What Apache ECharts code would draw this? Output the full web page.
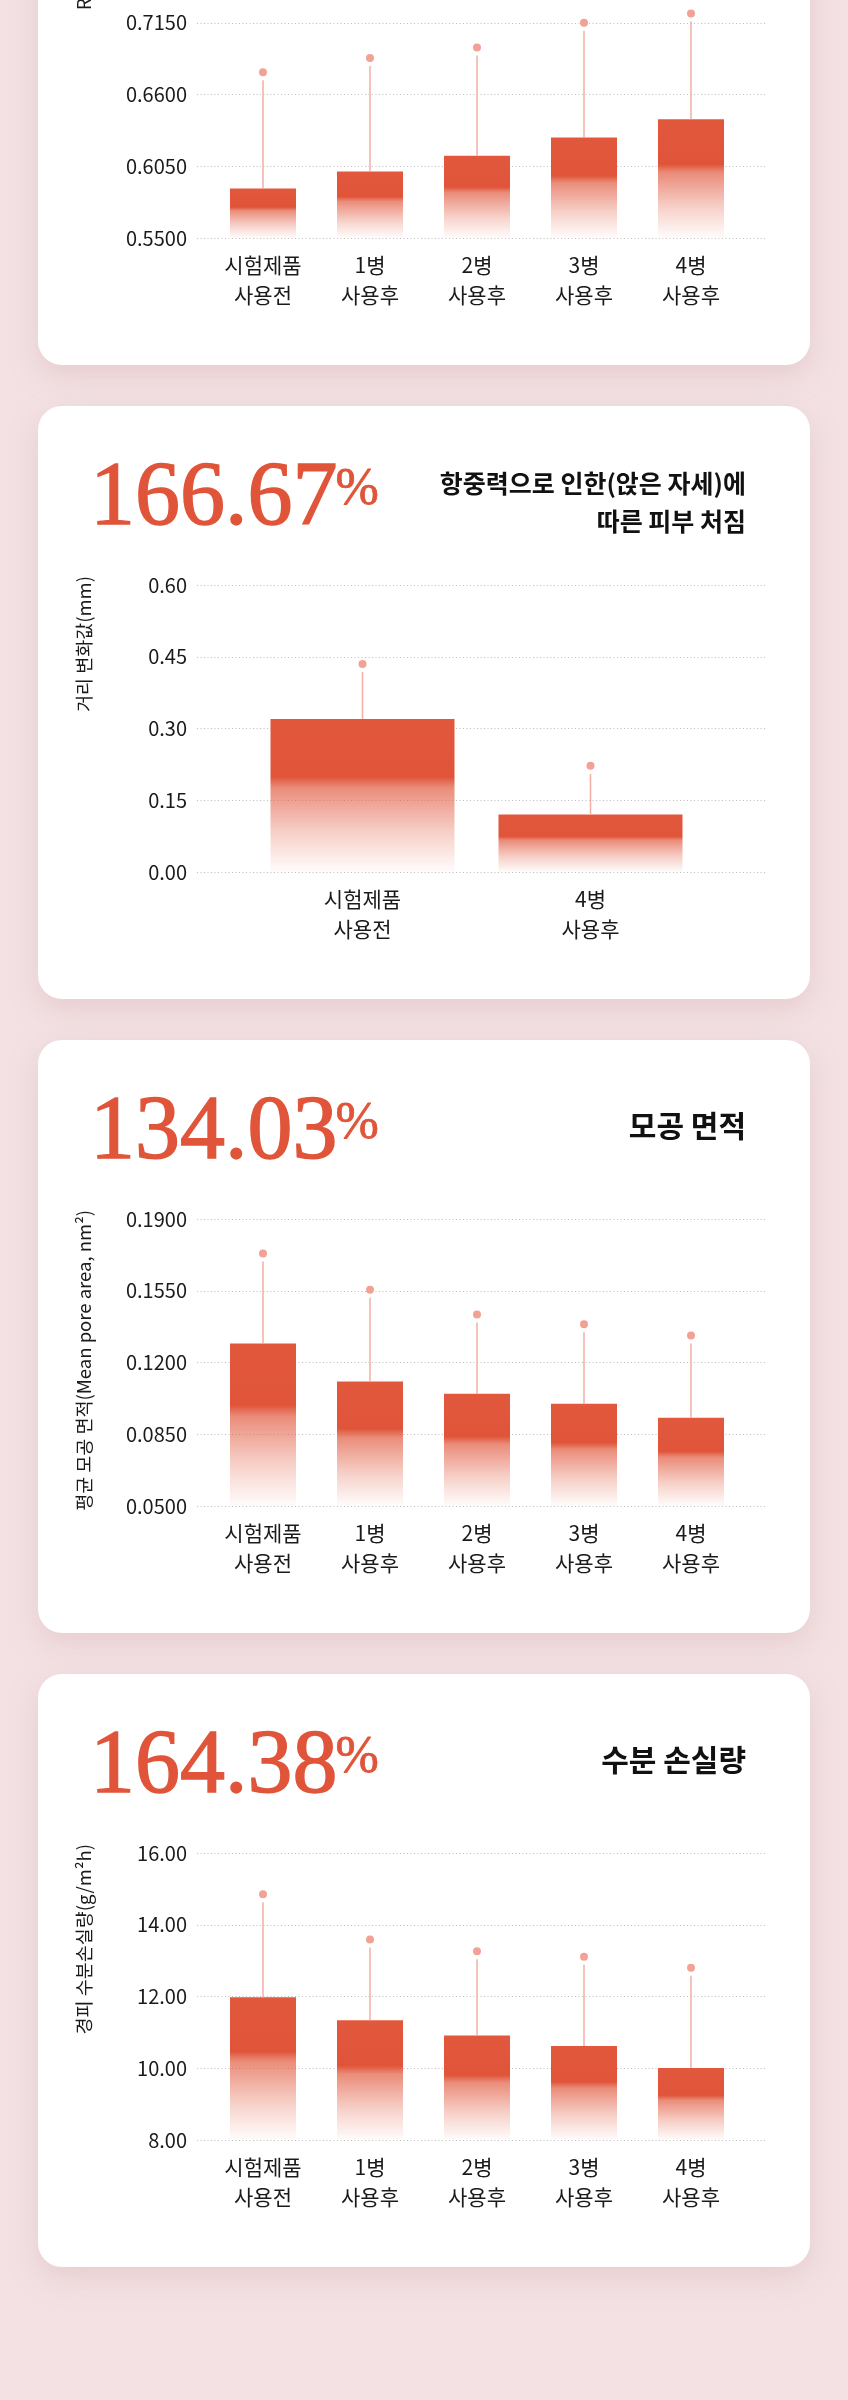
<!DOCTYPE html>
<html>
<head>
<meta charset="utf-8">
<script src="https://cdn.jsdelivr.net/npm/echarts@6/dist/echarts.min.js"></script>
<style>
  body { margin: 0; width: 848px; height: 2400px; background: #f3e1e3; position: relative; overflow: hidden; }
  .card { position: absolute; left: 38px; width: 772px; height: 593px; background: #fff; border-radius: 24px;
          box-shadow: 0 10px 28px rgba(210, 165, 170, 0.35); }
  .chart { width: 772px; height: 593px; }
</style>
</head>
<body>
<div class="card" style="top:-228px"><div class="chart" id="chart1"></div></div>
<div class="card" style="top:406px"><div class="chart" id="chart2"></div></div>
<div class="card" style="top:1040px"><div class="chart" id="chart3"></div></div>
<div class="card" style="top:1674px"><div class="chart" id="chart4"></div></div>

<script>
// categories
const stepLabels = ['시험제품\n사용전', '1병\n사용후', '2병\n사용후', '3병\n사용후', '4병\n사용후'];
const twoLabels = ['시험제품\n사용전', '4병\n사용후'];

// chart 1 - elasticity (card top cut off)
const elasticMean = [0.588, 0.601, 0.613, 0.627, 0.641];
const elasticUpper = [0.677, 0.688, 0.696, 0.715, 0.722];

// chart 2 - sagging
const sagMean = [0.32, 0.12];
const sagUpper = [0.435, 0.222];

// chart 3 - pore area
const poreMean = [0.1293, 0.1107, 0.1047, 0.0999, 0.0930];
const poreUpper = [0.1732, 0.1555, 0.1434, 0.1386, 0.1332];

// chart 4 - TEWL
const tewlMean = [11.98, 11.34, 10.91, 10.62, 10.01];
const tewlUpper = [14.85, 13.59, 13.26, 13.11, 12.80];

const FONT = "'Noto Sans CJK KR', 'Noto Sans', sans-serif";
const SERIF = "'Liberation Serif', serif";
const RED = '#e0553a';

function textWidth(text, font) {
  const ctx = document.createElement('canvas').getContext('2d');
  ctx.font = font;
  return ctx.measureText(text).width;
}

function makeOption(cfg) {
  const elements = [];
  if (cfg.number) {
    const w = textWidth(cfg.number, '90px ' + SERIF);
    elements.push({
      type: 'text', x: 52, y: 94,
      style: { text: cfg.number, fill: RED, stroke: RED, lineWidth: 1.4, fontSize: 90, fontFamily: SERIF,
               align: 'left', verticalAlign: 'middle', textAlign: 'left', textVerticalAlign: 'middle' }
    });
    elements.push({
      type: 'text', x: 52 + w - 2, y: 84,
      style: { text: '%', fill: RED, stroke: RED, lineWidth: 0.8, fontSize: 52, fontFamily: SERIF,
               align: 'left', verticalAlign: 'middle', textAlign: 'left', textVerticalAlign: 'middle' }
    });
  }
  if (cfg.title) {
    const twoLine = cfg.title.indexOf('\n') >= 0;
    elements.push({
      type: 'text', x: 708, y: twoLine ? 96 : 86,
      style: { text: cfg.title, fill: '#111', fontSize: twoLine ? 25 : 30, fontWeight: 'bold', fontFamily: FONT,
               lineHeight: 38, align: 'right', verticalAlign: 'middle', textAlign: 'right', textVerticalAlign: 'middle' }
    });
  }
  // rotated y axis name
  elements.push({
    type: 'text', x: 46, y: cfg.nameFromBottom ? 238 : 170, rotation: Math.PI / 2,
    style: { text: cfg.yName, fill: '#1a1a1a', fontSize: 18.5, fontFamily: FONT,
             align: cfg.nameFromBottom ? 'left' : 'right', verticalAlign: 'middle',
             textAlign: cfg.nameFromBottom ? 'left' : 'right', textVerticalAlign: 'middle' }
  });

  const yRange = { min: cfg.min, max: cfg.max, interval: cfg.interval };

  return {
    animation: false,
    textStyle: { fontFamily: FONT },
    graphic: { elements: elements },
    grid: [
      { left: 159, right: 45, top: 179, bottom: 127 },
      { left: cfg.barLeft, right: cfg.barRight, top: 179, bottom: 127 }
    ],
    xAxis: [
      { gridIndex: 0, type: 'value', min: 0, max: 1, show: false },
      {
        gridIndex: 1, type: 'category', data: cfg.labels,
        axisLine: { show: false }, axisTick: { show: false },
        axisLabel: { color: '#1a1a1a', fontSize: 21, lineHeight: 30, margin: 12, interval: 0 }
      }
    ],
    yAxis: [
      Object.assign({
        gridIndex: 0, type: 'value',
        axisLine: { show: false }, axisTick: { show: false },
        axisLabel: { color: '#1a1a1a', fontSize: 20, margin: 10,
                     formatter: (v) => v.toFixed(cfg.decimals) },
        splitLine: { show: true, lineStyle: { color: '#bcbcbc', width: 1, type: [1, 2.5] } }
      }, yRange),
      Object.assign({ gridIndex: 1, type: 'value', show: false, splitLine: { show: false } }, yRange)
    ],
    series: [
      {
        type: 'bar', xAxisIndex: 1, yAxisIndex: 1, barWidth: cfg.barWidth, clip: true,
        data: cfg.mean,
        itemStyle: {
          color: new echarts.graphic.LinearGradient(0, 0, 0, 1, [
            { offset: 0, color: '#e2583c' },
            { offset: 0.38, color: '#e0553a' },
            { offset: 0.45, color: 'rgba(226, 96, 70, 0.72)' },
            { offset: 0.75, color: 'rgba(228, 105, 80, 0.3)' },
            { offset: 1, color: 'rgba(230, 110, 85, 0.02)' }
          ])
        }
      },
      {
        type: 'custom', xAxisIndex: 1, yAxisIndex: 1, z: 3,
        data: cfg.mean.map((m, i) => [i, m, cfg.upper[i]]),
        encode: { x: 0, y: [1, 2] },
        renderItem: function (params, api) {
          const base = api.coord([api.value(0), api.value(1)]);
          const top = api.coord([api.value(0), api.value(2)]);
          return {
            type: 'group',
            children: [
              { type: 'line', shape: { x1: base[0], y1: base[1], x2: top[0], y2: top[1] + 8 },
                style: { stroke: '#f4aea2', lineWidth: 1.5 } },
              { type: 'circle', shape: { cx: top[0], cy: top[1], r: 4 },
                style: { fill: '#f2a294' } }
            ]
          };
        }
      }
    ]
  };
}

const configs = [
  { id: 'chart1', labels: stepLabels, mean: elasticMean, upper: elasticUpper,
    min: 0.55, max: 0.77, interval: 0.055, decimals: 4,
    yName: 'R2(피부 탄력)', nameFromBottom: true,
    barLeft: 171.5, barRight: 65.5, barWidth: 66 },
  { id: 'chart2', labels: twoLabels, mean: sagMean, upper: sagUpper,
    min: 0, max: 0.6, interval: 0.15, decimals: 2,
    number: '166.67', title: '항중력으로 인한(앉은 자세)에\n따른 피부 처짐', yName: '거리 변화값(mm)',
    barLeft: 210.5, barRight: 105.5, barWidth: 184 },
  { id: 'chart3', labels: stepLabels, mean: poreMean, upper: poreUpper,
    min: 0.05, max: 0.19, interval: 0.035, decimals: 4,
    number: '134.03', title: '모공 면적', yName: '평균 모공 면적(Mean pore area, nm²)',
    barLeft: 171.5, barRight: 65.5, barWidth: 66 },
  { id: 'chart4', labels: stepLabels, mean: tewlMean, upper: tewlUpper,
    min: 8, max: 16, interval: 2, decimals: 2,
    number: '164.38', title: '수분 손실량', yName: '경피 수분손실량(g/m²h)',
    barLeft: 171.5, barRight: 65.5, barWidth: 66 }
];

configs.forEach((cfg) => {
  const chart = echarts.init(document.getElementById(cfg.id));
  chart.setOption(makeOption(cfg));
});
</script>
</body>
</html>
